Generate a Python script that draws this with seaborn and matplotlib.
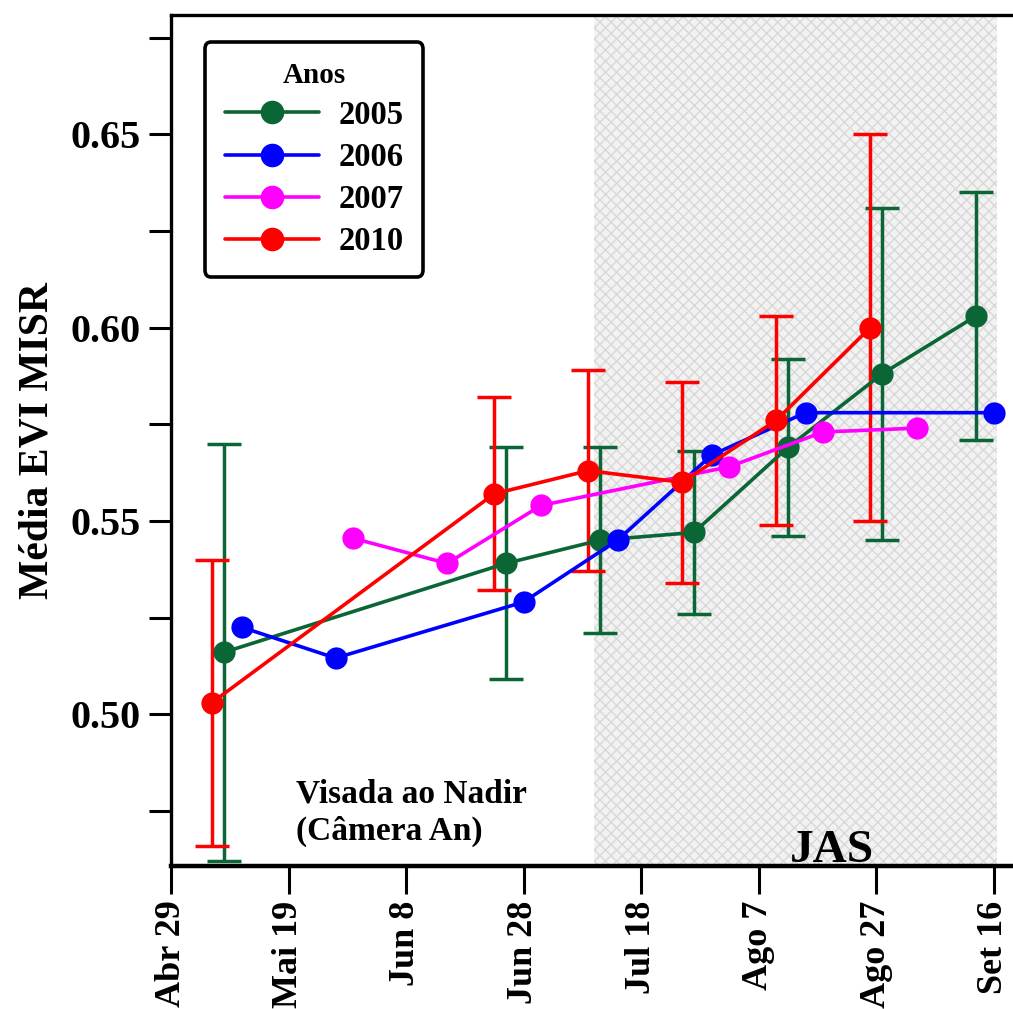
import pandas as pd
import matplotlib
matplotlib.use("Agg")
import matplotlib.pyplot as plt
from matplotlib.lines import Line2D
import seaborn as sns

# day of year (x) and mean EVI per year
doy_2005 = [128, 176, 192, 208, 224, 240, 256]
evi_2005 = [0.516, 0.539, 0.545, 0.547, 0.569, 0.588, 0.603]
err_2005 = [0.054, 0.030, 0.024, 0.021, 0.023, 0.043, 0.032]

doy_2006 = [131, 147, 179, 195, 211, 227, 259]
evi_2006 = [0.5225, 0.5145, 0.529, 0.545, 0.567, 0.578, 0.578]

doy_2007 = [150, 166, 182, 214, 230, 246]
evi_2007 = [0.5455, 0.539, 0.554, 0.564, 0.573, 0.574]

doy_2010 = [126, 174, 190, 206, 222, 238]
evi_2010 = [0.503, 0.557, 0.563, 0.560, 0.576, 0.600]
err_2010 = [0.037, 0.025, 0.026, 0.026, 0.027, 0.050]

tick_doy = [119, 139, 159, 179, 199, 219, 239, 259]
tick_labels = ["Abr 29", "Mai 19", "Jun 8", "Jun 28", "Jul 18", "Ago 7", "Ago 27", "Set 16"]

years = ["2005", "2006", "2007", "2010"]
colors = {"2005": "#0b6636", "2006": "#0000ff", "2007": "#ff00ff", "2010": "#ff0000"}

jas_start, jas_end = 191, 259.6

# ── build long table ───────────────────────────────────────────────────────────
frames = []
for yr, d, v in [("2005", doy_2005, evi_2005), ("2006", doy_2006, evi_2006),
                 ("2007", doy_2007, evi_2007), ("2010", doy_2010, evi_2010)]:
    frames.append(pd.DataFrame({"doy": d, "evi": v, "ano": yr}))
df = pd.concat(frames, ignore_index=True)

sns.set_style("ticks")
plt.rcParams["font.family"] = ["Liberation Serif", "DejaVu Serif"]
plt.rcParams["font.weight"] = "bold"
plt.rcParams["text.color"] = "black"
plt.rcParams["axes.labelcolor"] = "black"
plt.rcParams["hatch.linewidth"] = 1.0

fig = plt.figure(figsize=(10.13, 10.09), dpi=100)
ax = fig.add_axes([171 / 1013, 143 / 1009, 849 / 1013, 851 / 1009])

# JAS shaded period
ax.axvspan(jas_start, jas_end, facecolor="#f2f2f2", edgecolor="#d8d8d8",
           hatch="xxx", linewidth=0, zorder=0)

# error bars
for yr, d, v, e in [("2005", doy_2005, evi_2005, err_2005), ("2010", doy_2010, evi_2010, err_2010)]:
    ax.errorbar(d, v, yerr=e, fmt="none", ecolor=colors[yr], elinewidth=2.5,
                capsize=12, capthick=2.5, zorder=2)

sns.lineplot(data=df, x="doy", y="evi", hue="ano", hue_order=years, palette=colors,
             marker="o", markersize=16, markeredgewidth=0, linewidth=2.6,
             sort=False, legend=False, ax=ax, zorder=3)

ax.set_xlim(119, 119 + 849 / 5.875)
ax.set_ylim(0.4607, 0.6809)

ax.set_xticks(tick_doy)
ax.set_xticklabels(tick_labels, rotation=90, fontsize=26, fontweight="bold")
ax.set_yticks([0.50, 0.55, 0.60, 0.65])
ax.set_yticklabels(["0.50", "0.55", "0.60", "0.65"], fontsize=29, fontweight="bold")
ax.set_yticks([0.475, 0.525, 0.575, 0.625, 0.675], minor=True)
ax.tick_params(axis="x", direction="out", length=20, width=2.2, pad=5, colors="black")
ax.tick_params(axis="y", which="both", direction="out", length=16, width=2.2, pad=6, colors="black")

ax.set_xlabel("")
ax.set_ylabel("Média EVI MISR", fontsize=30, fontweight="bold", labelpad=10)

for side in ["left", "top"]:
    ax.spines[side].set_linewidth(2.4)
ax.spines["bottom"].set_linewidth(3.2)
ax.spines["right"].set_visible(False)
for s in ax.spines.values():
    s.set_color("black")

ax.text(140.3, 0.4744, "Visada ao Nadir\n(Câmera An)", fontsize=24, fontweight="bold",
        ha="left", va="center", linespacing=1.25)
ax.text(231.5, 0.4618, "JAS", fontsize=34, fontweight="bold", ha="center", va="baseline")

handles = [Line2D([0], [0], color=colors[y], lw=2.6, marker="o", markersize=17,
                  markeredgewidth=0) for y in years]
leg = ax.legend(handles, years, title="Anos", loc="upper left",
                bbox_to_anchor=(0.040, 0.968), borderaxespad=0, fontsize=23.5,
                title_fontproperties={"weight": "bold", "size": 21},
                handlelength=2.9, labelspacing=0.34, handletextpad=0.6,
                borderpad=0.6, fancybox=True, framealpha=1)
leg.get_frame().set_edgecolor("black")
leg.get_frame().set_linewidth(2.6)
for t in leg.get_texts():
    t.set_fontweight("bold")

fig.savefig("out.png", dpi=100)
plt.close(fig)
